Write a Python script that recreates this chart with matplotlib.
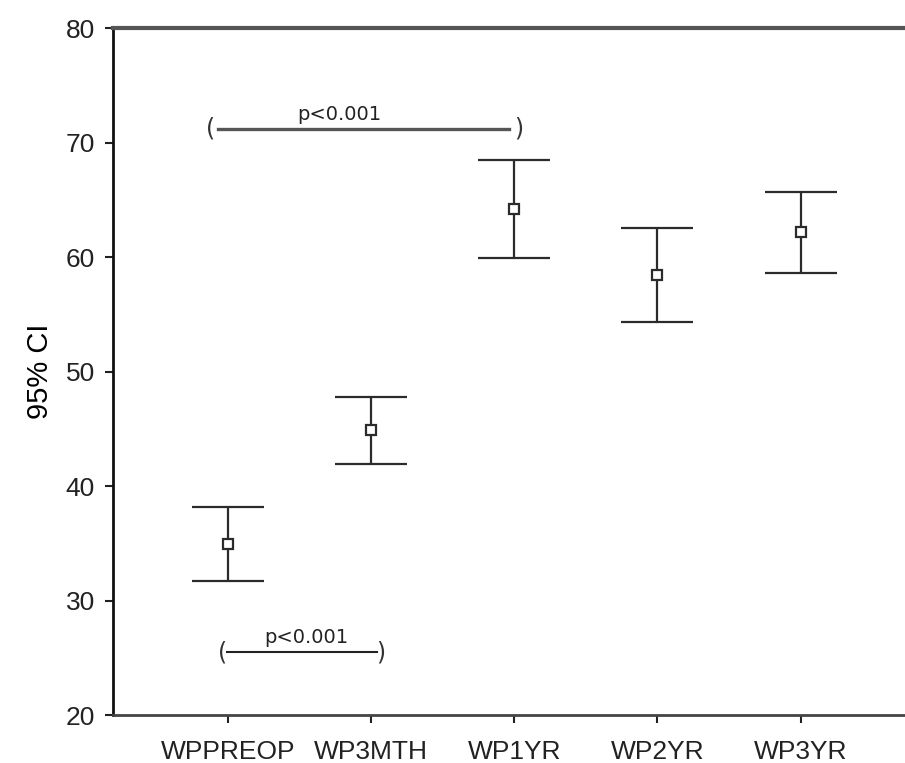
import matplotlib.pyplot as plt
import numpy as np

# data
groups = ["WPPREOP", "WP3MTH", "WP1YR", "WP2YR", "WP3YR"]
means = [34.9, 44.9, 64.2, 58.4, 62.2]
upper = [38.2, 47.8, 68.5, 62.5, 65.7]
lower = [31.7, 41.9, 59.9, 54.3, 58.6]

# significance brackets: (start group, end group, y, label)
brackets = [(0, 2, 71.2, "p<0.001"), (0, 1, 25.5, "p<0.001")]

plt.rcParams['font.family'] = ['Liberation Sans', 'DejaVu Sans']

fig = plt.figure(figsize=(9.05, 7.63), dpi=100)
ax = fig.add_axes([0.1249, 0.0629, 0.8751, 0.9004])

x = np.arange(1, len(groups) + 1)
m = np.array(means)
yerr = [m - np.array(lower), np.array(upper) - m]

ax.errorbar(x, m, yerr=yerr, fmt="s", color="#2b2b2b", mfc="white", mec="#2b2b2b",
            ms=7.5, mew=1.6, elinewidth=1.6, capsize=26, capthick=2.4, zorder=3)

# bracket styling: (line start offset, line end offset, paren offsets, text shift, lw, colour)
bstyle = [(-0.07, -0.04, -0.12, 0.03, -0.22, 2.4, "#555555"),
          (-0.01, 0.04, -0.04, 0.07, 0.05, 1.5, "#222222")]

for (i0, i1, yb, lab), (l0, l1, p0, p1, ts, lw, col) in zip(brackets, bstyle):
    xa, xb = x[i0], x[i1]
    ax.plot([xa + l0, xb + l1], [yb, yb], color=col, lw=lw)
    ax.text(xa + p0, yb, "(", ha="center", va="center", fontsize=17, family="DejaVu Sans", color="#333333")
    ax.text(xb + p1, yb, ")", ha="center", va="center", fontsize=17, family="DejaVu Sans", color="#333333")
    ax.text((xa + xb) / 2 + ts, yb + 0.45, lab, ha="center", va="bottom",
            fontsize=14, family="DejaVu Sans", color="#222222")

ax.set_xlim(0.196, 5.73)
ax.set_ylim(20, 80)
ax.set_yticks(range(20, 81, 10))
ax.set_xticks(x)
ax.set_xticklabels(groups)
ax.tick_params(axis="both", labelsize=19, length=6, width=1.5, direction="out", colors="#222222")
ax.tick_params(axis="y", pad=7)
ax.tick_params(axis="x", pad=12)
ax.set_ylabel("95% CI", fontsize=21, labelpad=8)

ax.spines["right"].set_visible(False)
ax.spines["left"].set_linewidth(2)
ax.spines["left"].set_color("#111111")
ax.spines["bottom"].set_linewidth(2)
ax.spines["bottom"].set_color("#444444")
ax.spines["top"].set_linewidth(3)
ax.spines["top"].set_color("#555555")

plt.savefig("out.png")
